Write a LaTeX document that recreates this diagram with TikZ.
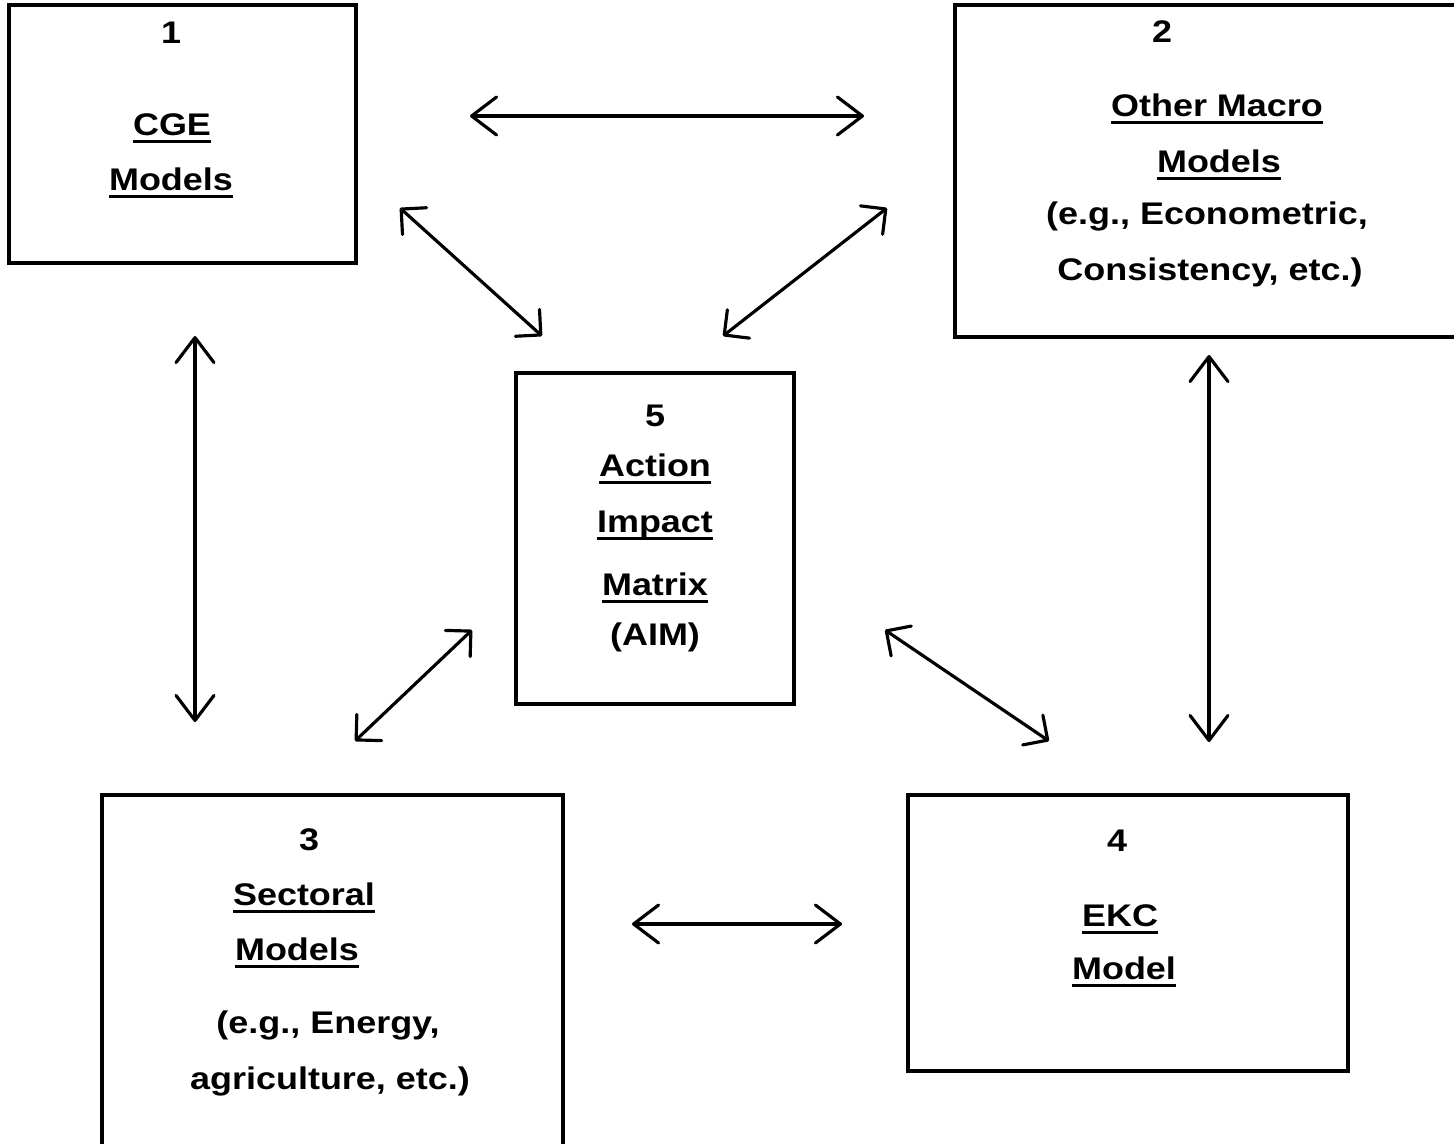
\documentclass[tikz,border=0pt]{standalone}
\usepackage{fontspec}
\setmainfont{Liberation Sans}[FakeStretch=1.15]
\usetikzlibrary{arrows.meta}

\newcommand{\undl}[1]{\setbox0\hbox{#1}\rlap{\rule[-4.6pt]{\wd0}{1.9pt}}\box0}

\tikzset{
  box/.style={draw, line width=2pt, inner sep=0pt},
  lbl/.style={anchor=base, inner sep=0pt, font=\bfseries\fontsize{17.8}{20}\selectfont},
  link/.style={line width=1.8pt, line cap=round,
    {Straight Barb[length=0.5cm,width=0.76cm,round]}-{Straight Barb[length=0.5cm,width=0.76cm,round]}},
  slant/.style={line width=1.8pt, line cap=round,
    {Straight Barb[length=0.36cm,width=0.72cm,round]}-{Straight Barb[length=0.36cm,width=0.72cm,round]}}
}

\begin{document}
\begin{tikzpicture}[x=0.02cm,y=-0.02cm]
    \clip (0,0) rectangle (1454,1143);
    % boxes
    \node[box, minimum width=6.94cm, minimum height=5.16cm] (cge) at (182.5,134) {};
    \node[box, minimum width=10.1cm, minimum height=6.64cm] (macro) at (1207.5,171) {};
    \node[box, minimum width=5.56cm, minimum height=6.62cm] (aim) at (655,538.5) {};
    \node[box, minimum width=9.22cm, minimum height=7.02cm] (sect) at (332.5,970.5) {};
    \node[box, minimum width=8.8cm, minimum height=5.52cm] (ekc) at (1128,933) {};

    % box 1
    \node[lbl] (n1) at (171,43) {1};
    \node[lbl] (cge1) at (172,135) {\undl{CGE}};
    \node[lbl] (cge2) at (171,190) {\undl{Models}};
    % box 2
    \node[lbl] (n2) at (1162,42) {2};
    \node[lbl] (macro1) at (1217,116) {\undl{Other Macro}};
    \node[lbl] (macro2) at (1219,172) {\undl{Models}};
    \node[lbl] (macro3) at (1207,224) {(e.g., Econometric,};
    \node[lbl] (macro4) at (1210,280) {Consistency, etc.)};
    % box 5
    \node[lbl] (n5) at (655,426) {5};
    \node[lbl] (aim1) at (655,476) {\undl{Action}};
    \node[lbl] (aim2) at (655,532) {\undl{Impact}};
    \node[lbl] (aim3) at (655,595) {\undl{Matrix}};
    \node[lbl] (aim4) at (655,645) {(AIM)};
    % box 3
    \node[lbl] (n3) at (309,850) {3};
    \node[lbl] (sect1) at (304,905) {\undl{Sectoral}};
    \node[lbl] (sect2) at (297,960) {\undl{Models}};
    \node[lbl] (sect3) at (328,1033) {(e.g., Energy,};
    \node[lbl] (sect4) at (330,1089) {agriculture, etc.)};
    % box 4
    \node[lbl] (n4) at (1117,851) {4};
    \node[lbl] (ekc1) at (1120,926) {\undl{EKC}};
    \node[lbl] (ekc2) at (1124,979) {\undl{Model}};

    % arrow ends
    \coordinate (top-w) at (470,116);
    \coordinate (top-e) at (864,116);
    \coordinate (cge-se) at (400,208);
    \coordinate (aim-nw) at (542,336);
    \coordinate (macro-sw) at (887,208);
    \coordinate (aim-ne) at (723,336);
    \coordinate (left-n) at (195,336);
    \coordinate (left-s) at (195,722);
    \coordinate (right-n) at (1209,355);
    \coordinate (right-s) at (1209,742);
    \coordinate (sect-ne) at (355,741);
    \coordinate (aim-sw) at (472,630);
    \coordinate (aim-se) at (885,630);
    \coordinate (ekc-nw) at (1049,741);
    \coordinate (bot-w) at (632,924);
    \coordinate (bot-e) at (842,924);

    \draw[link] (top-w) -- (top-e);
    \draw[slant] (cge-se) -- (aim-nw);
    \draw[slant] (macro-sw) -- (aim-ne);
    \draw[link] (left-n) -- (left-s);
    \draw[link] (right-n) -- (right-s);
    \draw[slant] (sect-ne) -- (aim-sw);
    \draw[slant] (aim-se) -- (ekc-nw);
    \draw[link] (bot-w) -- (bot-e);
\end{tikzpicture}
\end{document}
